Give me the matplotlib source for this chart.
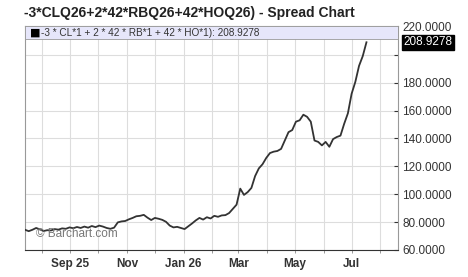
import numpy as np
import pandas as pd
import matplotlib
matplotlib.use("Agg")
import matplotlib.pyplot as plt
import matplotlib.dates as mdates
from matplotlib.patches import Rectangle

plt.rcParams['font.family'] = ['Liberation Sans', 'DejaVu Sans']

# datos (un punto cada 4 días)
fecha_inicio = "2025-07-14"
paso_dias = 4
valores = [
    74.5, 73.5, 74.5, 75.8, 74.8, 73.6, 74.2, 74.0, 75.0, 74.6,
    75.5, 75.2, 76.2, 75.6, 76.5, 75.8, 76.8, 76.0, 77.2, 76.4,
    77.5, 76.8, 75.8, 75.2, 76.0, 79.8, 80.5, 80.8, 82.0, 83.0,
    84.2, 84.5, 85.2, 83.2, 81.5, 83.0, 82.4, 81.6, 80.2, 77.5,
    76.2, 76.6, 75.8, 75.0, 77.0, 79.0, 81.2, 83.0, 81.8, 83.5,
    82.6, 84.5, 83.8, 84.8, 85.0, 86.5, 89.5, 92.5, 104.0, 99.5,
    101.5, 104.5, 113.0, 118.5, 121.5, 126.0, 129.5, 130.5, 131.0, 132.5,
    138.5, 144.5, 146.0, 152.0, 153.0, 157.0, 155.5, 152.0, 138.5, 137.5,
    135.0, 137.5, 134.0, 139.5, 141.0, 142.0, 150.5, 158.0, 172.0, 180.5,
    192.0, 199.0, 208.9278,
]
ultimo = 208.9278

titulo = "-3*CLQ26+2*42*RBQ26+42*HOQ26) - Spread Chart"
leyenda = "-3 * CL*1 + 2 * 42 * RB*1 + 42 * HO*1): 208.9278"
ticks_y = [60, 80, 100, 120, 140, 160, 180, 200, 220]
ticks_x = ["2025-09-01", "2025-11-01", "2026-01-01", "2026-03-01", "2026-05-01", "2026-07-01"]
etiquetas_x = ["Sep 25", "Nov", "Jan 26", "Mar", "May", "Jul"]

fechas = pd.date_range(fecha_inicio, periods=len(valores), freq=f"{paso_dias}D")

fig = plt.figure(figsize=(4.68, 2.77), dpi=100)
ax = fig.add_axes([25/468, 1-250/277, (398-25)/468, (250-26)/277])

gris = "#333333"
ax.plot(fechas, valores, color=gris, lw=1.3, zorder=3)

ax.set_xlim(pd.Timestamp("2025-07-14"), pd.Timestamp("2026-08-20"))
ax.set_ylim(60, 220.6)

# rejilla mensual
ax.xaxis.set_minor_locator(mdates.MonthLocator())
ax.set_xticks(pd.to_datetime(ticks_x))
ax.set_xticklabels(etiquetas_x, fontweight="bold", fontsize=8.5, color=gris)
ax.grid(True, which="both", axis="x", color="#dddddd", lw=0.8)
ax.grid(True, axis="y", color="#dddddd", lw=0.8)
ax.set_axisbelow(True)

ax.yaxis.tick_right()
ax.set_yticks(ticks_y)
ax.set_yticklabels([("" if t == 200 else f"{t:.4f}") for t in ticks_y], fontsize=8.5, color=gris)
ax.tick_params(axis="y", direction="in", length=3, width=0.8, color=gris, pad=3)
ax.tick_params(axis="x", which="both", direction="out", length=2, width=0.6, color="#888888", pad=4)

for lado in ["left", "right", "bottom", "top"]:
    ax.spines[lado].set_color("#999999")
    ax.spines[lado].set_linewidth(0.8)
ax.spines["bottom"].set_color(gris)

# banda de leyenda
alto = 13/224
banda = Rectangle((0, 1-alto), 1, alto, transform=ax.transAxes,
                  facecolor="#e6e6fa", edgecolor="#999999", lw=0.6, zorder=4)
ax.add_patch(banda)
ax.text(0.013, 1-alto/2, "■", transform=ax.transAxes, fontsize=8,
        va="center", ha="left", color="black", zorder=5, family=["DejaVu Sans"])
ax.text(0.042, 1-alto/2, leyenda, transform=ax.transAxes, fontsize=7.2,
        va="center", ha="left", color=gris, zorder=5)

# etiqueta del último precio
ax.annotate(f"{ultimo:.4f}", xy=(1, ultimo), xycoords=("axes fraction", "data"),
            xytext=(4, 0), textcoords="offset points", fontsize=8.5, color="white",
            va="center", ha="left", annotation_clip=False,
            bbox=dict(boxstyle="square,pad=0.12", fc="black", ec="black"))

ax.text(0.03, 0.07, "© Barchart.com", transform=ax.transAxes, fontsize=8.5,
        color="#777777", va="center", ha="left", zorder=5)

fig.text(24/468, 1-13/277, titulo, fontsize=10, fontweight="bold", color="#222222",
         va="center", ha="left")

fig.savefig("out.png", dpi=100)
